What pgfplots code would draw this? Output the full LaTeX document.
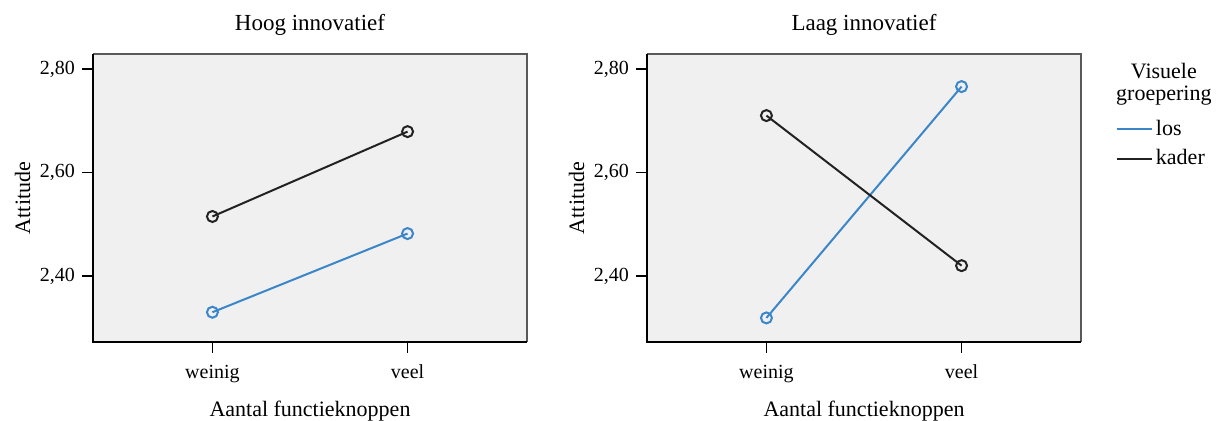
\documentclass[border=0pt]{standalone}
\usepackage{fontspec}
\setmainfont{Liberation Serif}
\usepackage{pgfplots}
\pgfplotsset{compat=1.18}
\definecolor{losblue}{HTML}{3A86C8}
\definecolor{kaderblack}{HTML}{222222}
\definecolor{plotbg}{HTML}{F0F0F0}
\pgfplotsset{
  panel/.style={
    scale only axis,
    width=217pt, height=144pt,
    xmin=-0.612, xmax=1.612,
    ymin=2.2725, ymax=2.829,
    xtick={0,1}, xticklabels={weinig,veel},
    ytick={2.4,2.6,2.8},
    yticklabels={{2,40},{2,60},{2,80}},
    axis background/.style={fill=plotbg},
    axis line style={draw=none},
    tick style={black, line width=0.8pt},
    major tick length=5.5pt,
    tick align=outside,
    xtick pos=bottom, ytick pos=left,
    ticklabel style={font=\fontsize{10}{12}\selectfont},
    xticklabel style={anchor=base, yshift=-19pt+5.5pt+0.5pt},
    xlabel={Aantal functieknoppen},
    ylabel={Attitude},
    xlabel style={font=\fontsize{11}{13}\selectfont, at={(axis description cs:0.5,0)}, anchor=base, yshift=-37.5pt},
    ylabel style={font=\fontsize{11}{13}\selectfont, at={(axis description cs:-0.145,0.5)}, anchor=base},
    every axis title shift=0pt,
    title style={font=\fontsize{11.5}{13}\selectfont, at={(axis description cs:0.5,1)}, anchor=base, yshift=11.5pt},
    every axis plot/.append style={line width=1pt, mark=o, mark size=2.75pt, mark options={fill=plotbg, line width=1.1pt}},
    clip=false,
    execute at end axis={
      \draw[gray!70!black, line width=0.8pt] (rel axis cs:0,1) -- (rel axis cs:1,1) -- (rel axis cs:1,0);
      \draw[black, line width=1pt] (rel axis cs:0,1) -- (rel axis cs:0,0) -- (rel axis cs:1,0);
    },
  }
}
\begin{document}
\begin{tikzpicture}
\useasboundingbox (0,0) rectangle (611pt,210.5pt);
\begin{axis}[panel, at={(46.5pt,39.5pt)}, anchor=south west, title={Hoog innovatief}]
\addplot[losblue, mark options={draw=losblue, fill=plotbg}] coordinates {(0,2.330) (1,2.482)};
\addplot[kaderblack, mark options={draw=kaderblack, fill=plotbg}] coordinates {(0,2.515) (1,2.679)};
\end{axis}
\begin{axis}[panel, at={(323.5pt,39.5pt)}, anchor=south west, title={Laag innovatief},
  legend style={draw=none, fill=none, at={(rel axis cs:1.0806,0.78)}, anchor=north west,
    font=\fontsize{11}{13}\selectfont, row sep=2.5pt, inner sep=0pt, outer sep=0pt,
    nodes={inner sep=1.5pt}},
  legend cell align=left,
  legend image code/.code={\draw[#1, mark=none] (0pt,0pt) -- (17.5pt,0pt);},
]
\addplot[losblue, mark options={draw=losblue, fill=plotbg}] coordinates {(0,2.319) (1,2.766)};
\addlegendentry{los}
\addplot[kaderblack, mark options={draw=kaderblack, fill=plotbg}] coordinates {(0,2.710) (1,2.420)};
\addlegendentry{kader}
\node[font=\fontsize{11}{11}\selectfont, align=center, anchor=base] at (rel axis cs:1.191,0.837) {Visuele\\groepering};
\end{axis}
\end{tikzpicture}
\end{document}
